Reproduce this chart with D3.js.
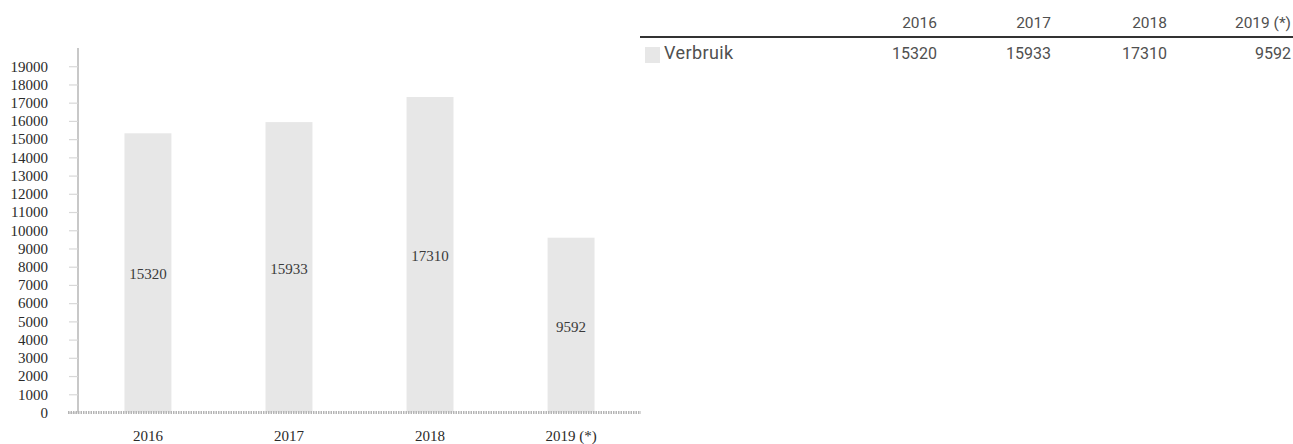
<!DOCTYPE html>
<html>
<head>
<meta charset="utf-8">
<script src="https://cdn.jsdelivr.net/npm/d3@7"></script>
<style>
  body { margin: 0; background: #fff; }
  svg { display: block; }
</style>
</head>
<body>
<div id="chart"></div>
<script>
// data
var years = ["2016", "2017", "2018", "2019 (*)"];
var verbruik = [15320, 15933, 17310, 9592];
var yTicks = [0, 1000, 2000, 3000, 4000, 5000, 6000, 7000, 8000, 9000, 10000,
              11000, 12000, 13000, 14000, 15000, 16000, 17000, 18000, 19000];
var seriesName = "Verbruik";

var W = 1293, H = 444;
var serif = "'Liberation Serif', 'DejaVu Serif', serif";

var svg = d3.select("#chart").append("svg")
    .attr("width", W)
    .attr("height", H);

svg.append("rect").attr("width", W).attr("height", H).attr("fill", "#fff");

// scales
var x = d3.scaleBand()
    .domain(years)
    .range([77.5, 641.5])
    .paddingInner(0.667)
    .paddingOuter(0.333);

var y = d3.scaleLinear()
    .domain([0, 20000])
    .range([412.5, 48]);

// bars
svg.selectAll(".bar")
    .data(verbruik)
    .enter().append("rect")
    .attr("class", "bar")
    .attr("x", function(d, i) { return x(years[i]); })
    .attr("width", x.bandwidth())
    .attr("y", function(d) { return y(d); })
    .attr("height", function(d) { return y(0) - y(d); })
    .attr("fill", "#e7e7e7");

// value labels in the middle of the bars
svg.selectAll(".val")
    .data(verbruik)
    .enter().append("text")
    .attr("x", function(d, i) { return x(years[i]) + x.bandwidth() / 2; })
    .attr("y", function(d) { return (y(d) + y(0)) / 2 + 3; })
    .attr("text-anchor", "middle")
    .attr("dominant-baseline", "middle")
    .attr("font-family", serif)
    .attr("font-size", 15)
    .attr("fill", "#3a3a3a")
    .text(function(d) { return d; });

// y axis
var yAxis = svg.append("g")
    .attr("transform", "translate(78,0)")
    .call(d3.axisLeft(y).tickValues(yTicks).tickSize(9).tickPadding(21).tickFormat(d3.format("d")));
yAxis.select(".domain")
    .attr("d", "M0," + y(20000) + "V" + y(0))
    .attr("stroke", "#c8c8c8")
    .attr("stroke-width", 2);
yAxis.selectAll(".tick line").attr("stroke", "#d8d8d8").attr("stroke-width", 1.2);
yAxis.selectAll(".tick text")
    .attr("font-family", serif)
    .attr("font-size", 15)
    .attr("fill", "#2a2a2a");

// x axis
var xAxis = svg.append("g")
    .attr("transform", "translate(0," + y(0) + ")")
    .call(d3.axisBottom(x).tickSize(0).tickPadding(18));
xAxis.select(".domain")
    .attr("d", "M68,0H641")
    .attr("stroke", "#b4b4b4")
    .attr("stroke-width", 3)
    .attr("stroke-dasharray", "1.5 1");
xAxis.selectAll(".tick text")
    .attr("font-family", serif)
    .attr("font-size", 15)
    .attr("fill", "#2a2a2a");

// data table on the right
var colX = d3.scaleOrdinal().domain(years).range([937, 1051, 1167, 1291]);
var table = svg.append("g")
    .attr("font-family", "Roboto, 'Noto Sans', sans-serif")
    .attr("font-size", 15.5)
    .attr("fill", "#505050");

table.selectAll(".head")
    .data(years)
    .enter().append("text")
    .attr("x", function(d) { return colX(d); })
    .attr("y", 28)
    .attr("text-anchor", "end")
    .text(function(d) { return d; });

table.append("line")
    .attr("x1", 640).attr("x2", W)
    .attr("y1", 37).attr("y2", 37)
    .attr("stroke", "#333")
    .attr("stroke-width", 2);

table.append("rect")
    .attr("x", 645).attr("y", 47)
    .attr("width", 15).attr("height", 16)
    .attr("fill", "#e7e7e7");

table.append("text")
    .attr("x", 664).attr("y", 59)
    .attr("font-size", 18)
    .attr("letter-spacing", 0.4)
    .text(seriesName);

table.selectAll(".cell")
    .data(verbruik)
    .enter().append("text")
    .attr("x", function(d, i) { return colX(years[i]); })
    .attr("y", 59)
    .attr("text-anchor", "end")
    .attr("font-size", 16)
    .text(function(d) { return d; });
</script>
</body>
</html>
